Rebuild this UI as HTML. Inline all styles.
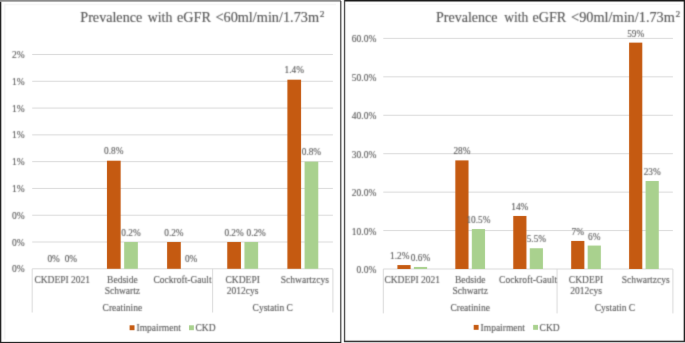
<!DOCTYPE html>
<html><head><meta charset="utf-8"><style>
html,body{margin:0;padding:0;background:#fff;}
body{width:685px;height:343px;overflow:hidden;}
svg{display:block;}
text{font-family:"Liberation Serif",serif;stroke:#595959;stroke-width:0.12px;}
</style></head><body>
<svg width="685" height="343" viewBox="0 0 685 343">
<defs>
<filter id="bs" filterUnits="userSpaceOnUse" x="0" y="0" width="685" height="343" color-interpolation-filters="sRGB"><feConvolveMatrix order="3" kernelMatrix="0.00163 0.03713 0.00163 0.03713 0.84497 0.03713 0.00163 0.03713 0.00163" divisor="1" edgeMode="duplicate" preserveAlpha="true"/></filter>
<filter id="bt" filterUnits="userSpaceOnUse" x="0" y="0" width="685" height="343" color-interpolation-filters="sRGB"><feConvolveMatrix order="3" kernelMatrix="0.02768 0.11101 0.02768 0.11101 0.44521 0.11101 0.02768 0.11101 0.02768" divisor="1" edgeMode="none" preserveAlpha="false"/></filter>
</defs>
<g filter="url(#bs)">
<rect x="0" y="0" width="685" height="343" fill="#fff"/>
<path d="M4.7,339.5 V4.5 H336" fill="none" stroke="#f6f6f6" stroke-width="1.6"/>
<path d="M348.5,4.5 H680" fill="none" stroke="#f7f7f7" stroke-width="1"/>
<line x1="32.20" y1="54.50" x2="332.90" y2="54.50" stroke="#d9d9d9" stroke-width="1"/>
<line x1="32.20" y1="81.29" x2="332.90" y2="81.29" stroke="#d9d9d9" stroke-width="1"/>
<line x1="32.20" y1="108.08" x2="332.90" y2="108.08" stroke="#d9d9d9" stroke-width="1"/>
<line x1="32.20" y1="134.86" x2="332.90" y2="134.86" stroke="#d9d9d9" stroke-width="1"/>
<line x1="32.20" y1="161.65" x2="332.90" y2="161.65" stroke="#d9d9d9" stroke-width="1"/>
<line x1="32.20" y1="188.44" x2="332.90" y2="188.44" stroke="#d9d9d9" stroke-width="1"/>
<line x1="32.20" y1="215.23" x2="332.90" y2="215.23" stroke="#d9d9d9" stroke-width="1"/>
<line x1="32.20" y1="242.01" x2="332.90" y2="242.01" stroke="#d9d9d9" stroke-width="1"/>
<line x1="32.20" y1="268.80" x2="332.90" y2="268.80" stroke="#d9d9d9" stroke-width="1"/>
<line x1="32.20" y1="268.80" x2="32.20" y2="312.50" stroke="#d9d9d9" stroke-width="1"/>
<line x1="212.62" y1="268.80" x2="212.62" y2="312.50" stroke="#d9d9d9" stroke-width="1"/>
<line x1="332.90" y1="268.80" x2="332.90" y2="312.50" stroke="#d9d9d9" stroke-width="1"/>
<rect x="106.96" y="160.71" width="13.70" height="108.09" fill="#C55A11"/>
<rect x="124.16" y="242.01" width="13.70" height="26.79" fill="#A9D18E"/>
<rect x="167.10" y="242.01" width="13.70" height="26.79" fill="#C55A11"/>
<rect x="227.24" y="242.01" width="13.70" height="26.79" fill="#C55A11"/>
<rect x="244.44" y="242.01" width="13.70" height="26.79" fill="#A9D18E"/>
<rect x="287.38" y="79.68" width="13.70" height="189.12" fill="#C55A11"/>
<rect x="304.58" y="161.65" width="13.70" height="107.15" fill="#A9D18E"/>
<rect x="129.60" y="325.30" width="4.90" height="4.90" fill="#C55A11"/>
<rect x="189.00" y="325.30" width="4.90" height="4.90" fill="#A9D18E"/>
<line x1="383.30" y1="38.40" x2="672.90" y2="38.40" stroke="#d9d9d9" stroke-width="1"/>
<line x1="383.30" y1="76.83" x2="672.90" y2="76.83" stroke="#d9d9d9" stroke-width="1"/>
<line x1="383.30" y1="115.27" x2="672.90" y2="115.27" stroke="#d9d9d9" stroke-width="1"/>
<line x1="383.30" y1="153.70" x2="672.90" y2="153.70" stroke="#d9d9d9" stroke-width="1"/>
<line x1="383.30" y1="192.13" x2="672.90" y2="192.13" stroke="#d9d9d9" stroke-width="1"/>
<line x1="383.30" y1="230.57" x2="672.90" y2="230.57" stroke="#d9d9d9" stroke-width="1"/>
<line x1="383.30" y1="269.00" x2="672.90" y2="269.00" stroke="#d9d9d9" stroke-width="1"/>
<line x1="383.30" y1="269.00" x2="383.30" y2="313.40" stroke="#d9d9d9" stroke-width="1"/>
<line x1="557.06" y1="269.00" x2="557.06" y2="313.40" stroke="#d9d9d9" stroke-width="1"/>
<line x1="672.90" y1="269.00" x2="672.90" y2="313.40" stroke="#d9d9d9" stroke-width="1"/>
<rect x="397.41" y="265.08" width="13.20" height="3.92" fill="#C55A11"/>
<rect x="413.91" y="266.96" width="13.20" height="2.04" fill="#A9D18E"/>
<rect x="455.33" y="160.39" width="13.20" height="108.61" fill="#C55A11"/>
<rect x="471.83" y="229.03" width="13.20" height="39.97" fill="#A9D18E"/>
<rect x="513.25" y="215.96" width="13.20" height="53.04" fill="#C55A11"/>
<rect x="529.75" y="248.25" width="13.20" height="20.75" fill="#A9D18E"/>
<rect x="571.17" y="240.94" width="13.20" height="28.06" fill="#C55A11"/>
<rect x="587.67" y="245.56" width="13.20" height="23.44" fill="#A9D18E"/>
<rect x="629.09" y="42.63" width="13.20" height="226.37" fill="#C55A11"/>
<rect x="645.59" y="180.99" width="13.20" height="88.01" fill="#A9D18E"/>
<rect x="473.70" y="324.90" width="4.90" height="4.90" fill="#C55A11"/>
<rect x="533.10" y="324.90" width="4.90" height="4.90" fill="#A9D18E"/>
<rect x="0" y="1.5" width="1.3" height="342" fill="#1e1e1e"/>
<rect x="0" y="0" width="341" height="1.7" fill="#8a8a8a"/>
<rect x="340.1" y="1" width="1.3" height="342" fill="#484848"/>
<rect x="0" y="341.9" width="341" height="1.1" fill="#1e1e1e"/>
<rect x="344" y="0" width="341" height="1.5" fill="#151515"/>
<rect x="343.9" y="0" width="1.3" height="342" fill="#444"/>
<rect x="683.7" y="0" width="1.3" height="342" fill="#1e1e1e"/>
<rect x="344" y="340.7" width="341" height="1.3" fill="#2a2a2a"/>
<rect x="344" y="342" width="341" height="1" fill="#d8d8d8"/>
</g>
<g filter="url(#bt)">
<text x="24.60" y="58.00" text-anchor="end" font-size="9.5" fill="#595959" >2%</text>
<text x="24.60" y="84.79" text-anchor="end" font-size="9.5" fill="#595959" >1%</text>
<text x="24.60" y="111.58" text-anchor="end" font-size="9.5" fill="#595959" >1%</text>
<text x="24.60" y="138.36" text-anchor="end" font-size="9.5" fill="#595959" >1%</text>
<text x="24.60" y="165.15" text-anchor="end" font-size="9.5" fill="#595959" >1%</text>
<text x="24.60" y="191.94" text-anchor="end" font-size="9.5" fill="#595959" >1%</text>
<text x="24.60" y="218.73" text-anchor="end" font-size="9.5" fill="#595959" >0%</text>
<text x="24.60" y="245.51" text-anchor="end" font-size="9.5" fill="#595959" >0%</text>
<text x="24.60" y="272.30" text-anchor="end" font-size="9.5" fill="#595959" >0%</text>
<text x="53.67" y="262.40" text-anchor="middle" font-size="9.3" fill="#595959" >0%</text>
<text x="70.87" y="262.40" text-anchor="middle" font-size="9.3" fill="#595959" >0%</text>
<text x="113.81" y="154.31" text-anchor="middle" font-size="9.3" fill="#595959" >0.8%</text>
<text x="131.01" y="235.61" text-anchor="middle" font-size="9.3" fill="#595959" >0.2%</text>
<text x="173.95" y="235.61" text-anchor="middle" font-size="9.3" fill="#595959" >0.2%</text>
<text x="191.15" y="262.40" text-anchor="middle" font-size="9.3" fill="#595959" >0%</text>
<text x="234.09" y="235.61" text-anchor="middle" font-size="9.3" fill="#595959" >0.2%</text>
<text x="256.19" y="235.61" text-anchor="middle" font-size="9.3" fill="#595959" >0.2%</text>
<text x="294.23" y="73.28" text-anchor="middle" font-size="9.3" fill="#595959" >1.4%</text>
<text x="311.43" y="155.25" text-anchor="middle" font-size="9.3" fill="#595959" >0.8%</text>
<text x="62.27" y="282.90" text-anchor="middle" font-size="9.5" fill="#595959" >CKDEPI 2021</text>
<text x="122.41" y="282.90" text-anchor="middle" font-size="9.5" fill="#595959" >Bedside</text>
<text x="122.41" y="294.10" text-anchor="middle" font-size="9.5" fill="#595959" >Schwartz</text>
<text x="182.55" y="282.90" text-anchor="middle" font-size="9.5" fill="#595959" >Cockroft-Gault</text>
<text x="242.69" y="282.90" text-anchor="middle" font-size="9.5" fill="#595959" >CKDEPI</text>
<text x="242.69" y="294.10" text-anchor="middle" font-size="9.5" fill="#595959" >2012cys</text>
<text x="304.83" y="282.90" text-anchor="middle" font-size="9.5" fill="#595959" >Schwartzcys</text>
<text x="122.41" y="310.50" text-anchor="middle" font-size="9.5" fill="#595959" >Creatinine</text>
<text x="272.76" y="310.50" text-anchor="middle" font-size="9.5" fill="#595959" >Cystatin C</text>
<text x="136.50" y="331.00" text-anchor="start" font-size="9.5" fill="#595959" >Impairment</text>
<text x="195.50" y="331.00" text-anchor="start" font-size="9.5" fill="#595959" >CKD</text>
<text x="80.34" y="21.50" font-size="14" fill="#595959" style="stroke-width:0.15px" textLength="61.90" lengthAdjust="spacingAndGlyphs">Prevalence</text>
<text x="147.84" y="21.50" font-size="14" fill="#595959" style="stroke-width:0.15px" textLength="24.50" lengthAdjust="spacingAndGlyphs">with</text>
<text x="177.00" y="21.50" font-size="14" fill="#595959" style="stroke-width:0.15px" textLength="33.87" lengthAdjust="spacingAndGlyphs">eGFR</text>
<text x="215.44" y="21.50" font-size="14" fill="#595959" style="stroke-width:0.15px" textLength="103.63" lengthAdjust="spacingAndGlyphs">&lt;60ml/min/1.73m</text>
<text x="319.73" y="16.90" font-size="9" fill="#595959" style="stroke-width:0.15px" textLength="4.74" lengthAdjust="spacingAndGlyphs">2</text>
<text x="376.30" y="42.40" text-anchor="end" font-size="9.5" fill="#595959" >60.0%</text>
<text x="376.30" y="80.83" text-anchor="end" font-size="9.5" fill="#595959" >50.0%</text>
<text x="376.30" y="119.27" text-anchor="end" font-size="9.5" fill="#595959" >40.0%</text>
<text x="376.30" y="157.70" text-anchor="end" font-size="9.5" fill="#595959" >30.0%</text>
<text x="376.30" y="196.13" text-anchor="end" font-size="9.5" fill="#595959" >20.0%</text>
<text x="376.30" y="234.57" text-anchor="end" font-size="9.5" fill="#595959" >10.0%</text>
<text x="376.30" y="273.00" text-anchor="end" font-size="9.5" fill="#595959" >0.0%</text>
<text x="399.71" y="259.18" text-anchor="middle" font-size="9.3" fill="#595959" >1.2%</text>
<text x="420.51" y="261.06" text-anchor="middle" font-size="9.3" fill="#595959" >0.6%</text>
<text x="461.93" y="154.49" text-anchor="middle" font-size="9.3" fill="#595959" >28%</text>
<text x="478.43" y="223.13" text-anchor="middle" font-size="9.3" fill="#595959" >10.5%</text>
<text x="519.85" y="210.06" text-anchor="middle" font-size="9.3" fill="#595959" >14%</text>
<text x="536.35" y="242.35" text-anchor="middle" font-size="9.3" fill="#595959" >5.5%</text>
<text x="577.77" y="235.04" text-anchor="middle" font-size="9.3" fill="#595959" >7%</text>
<text x="594.27" y="239.66" text-anchor="middle" font-size="9.3" fill="#595959" >6%</text>
<text x="635.69" y="36.73" text-anchor="middle" font-size="9.3" fill="#595959" >59%</text>
<text x="652.19" y="175.09" text-anchor="middle" font-size="9.3" fill="#595959" >23%</text>
<text x="412.26" y="283.20" text-anchor="middle" font-size="9.5" fill="#595959" >CKDEPI 2021</text>
<text x="470.18" y="283.20" text-anchor="middle" font-size="9.5" fill="#595959" >Bedside</text>
<text x="470.18" y="294.40" text-anchor="middle" font-size="9.5" fill="#595959" >Schwartz</text>
<text x="528.10" y="283.20" text-anchor="middle" font-size="9.5" fill="#595959" >Cockroft-Gault</text>
<text x="586.02" y="283.20" text-anchor="middle" font-size="9.5" fill="#595959" >CKDEPI</text>
<text x="586.02" y="294.40" text-anchor="middle" font-size="9.5" fill="#595959" >2012cys</text>
<text x="645.64" y="283.20" text-anchor="middle" font-size="9.5" fill="#595959" >Schwartzcys</text>
<text x="470.18" y="310.60" text-anchor="middle" font-size="9.5" fill="#595959" >Creatinine</text>
<text x="614.98" y="310.60" text-anchor="middle" font-size="9.5" fill="#595959" >Cystatin C</text>
<text x="480.60" y="330.60" text-anchor="start" font-size="9.5" fill="#595959" >Impairment</text>
<text x="539.60" y="330.60" text-anchor="start" font-size="9.5" fill="#595959" >CKD</text>
<text x="436.05" y="21.50" font-size="14" fill="#595959" style="stroke-width:0.15px" textLength="61.49" lengthAdjust="spacingAndGlyphs">Prevalence</text>
<text x="504.14" y="21.50" font-size="14" fill="#595959" style="stroke-width:0.15px" textLength="24.09" lengthAdjust="spacingAndGlyphs">with</text>
<text x="532.60" y="21.50" font-size="14" fill="#595959" style="stroke-width:0.15px" textLength="33.67" lengthAdjust="spacingAndGlyphs">eGFR</text>
<text x="571.14" y="21.50" font-size="14" fill="#595959" style="stroke-width:0.15px" textLength="103.74" lengthAdjust="spacingAndGlyphs">&lt;90ml/min/1.73m</text>
<text x="675.63" y="16.90" font-size="9" fill="#595959" style="stroke-width:0.15px" textLength="4.74" lengthAdjust="spacingAndGlyphs">2</text>
</g>
</svg>
</body></html>
